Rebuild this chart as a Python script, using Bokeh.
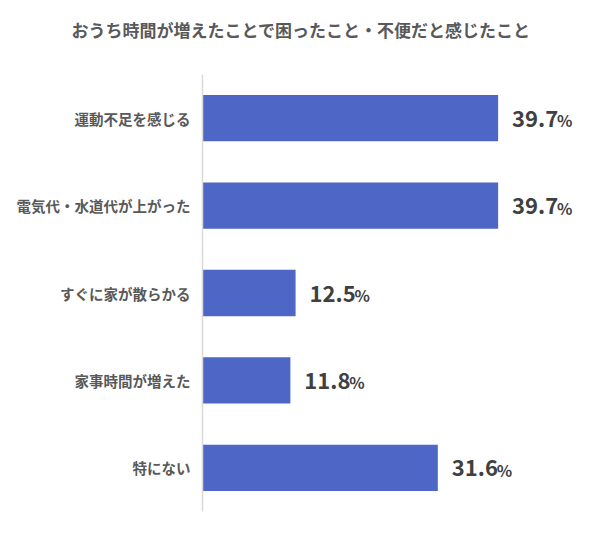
from bokeh.plotting import figure
from bokeh.models import ColumnDataSource, FactorRange, Range1d, Title
from bokeh.core.properties import value
from bokeh.embed import file_html
from bokeh.resources import INLINE

title_text = "おうち時間が増えたことで困ったこと・不便だと感じたこと"
categories = ["運動不足を感じる", "電気代・水道代が上がった", "すぐに家が散らかる", "家事時間が増えた", "特にない"]
values = [39.7, 39.7, 12.5, 11.8, 31.6]
labels = ["%.1f" % v for v in values]

FONT = "Noto Sans CJK JP"

src = ColumnDataSource(data=dict(cat=categories, val=values, lab=labels, pct=["%"] * len(values)))

p = figure(width=584, height=524, output_backend="svg", toolbar_location=None,
           y_range=FactorRange(*list(reversed(categories)), range_padding=0),
           x_range=Range1d(0, 51.3),
           min_border_left=202, min_border_top=74, min_border_bottom=13, min_border_right=0)

p.hbar(y="cat", right="val", left=0, height=0.53, source=src, color="#4e66c6", line_color=None)

p.text(x="val", y="cat", text="lab", source=src, x_offset=14, y_offset=0,
       text_font=value(FONT), text_font_size="22px", text_font_style="bold",
       text_color="#404040", text_align="left", text_baseline="middle")
p.text(x="val", y="cat", text="pct", source=src, x_offset=59, y_offset=2,
       text_font=value(FONT), text_font_size="16px", text_font_style="bold",
       text_color="#404040", text_align="left", text_baseline="middle")

p.xaxis.visible = False
p.xgrid.grid_line_color = None
p.ygrid.grid_line_color = None
p.outline_line_color = None

ya = p.yaxis[0]
ya.axis_line_color = "#d9d9d9"
ya.axis_line_width = 1.5
ya.major_tick_line_color = None
ya.minor_tick_line_color = None
ya.major_tick_out = 0
ya.major_tick_in = 0
ya.major_label_standoff = 12
ya.major_label_text_font = FONT
ya.major_label_text_font_size = "14.5px"
ya.major_label_text_font_style = "bold"
ya.major_label_text_color = "#595959"

# empty spacer between the frame and the title
p.add_layout(Title(text=" ", text_font_size="12px", standoff=10), "above")

p.title.text = title_text
p.title.align = "left"
p.title.vertical_align = "top"
p.title.offset = -131
p.title.standoff = 10
p.title.text_font = FONT
p.title.text_font_size = "17px"
p.title.text_font_style = "bold"
p.title.text_color = "#595959"

open("out.html", "w").write(file_html(p, INLINE))
